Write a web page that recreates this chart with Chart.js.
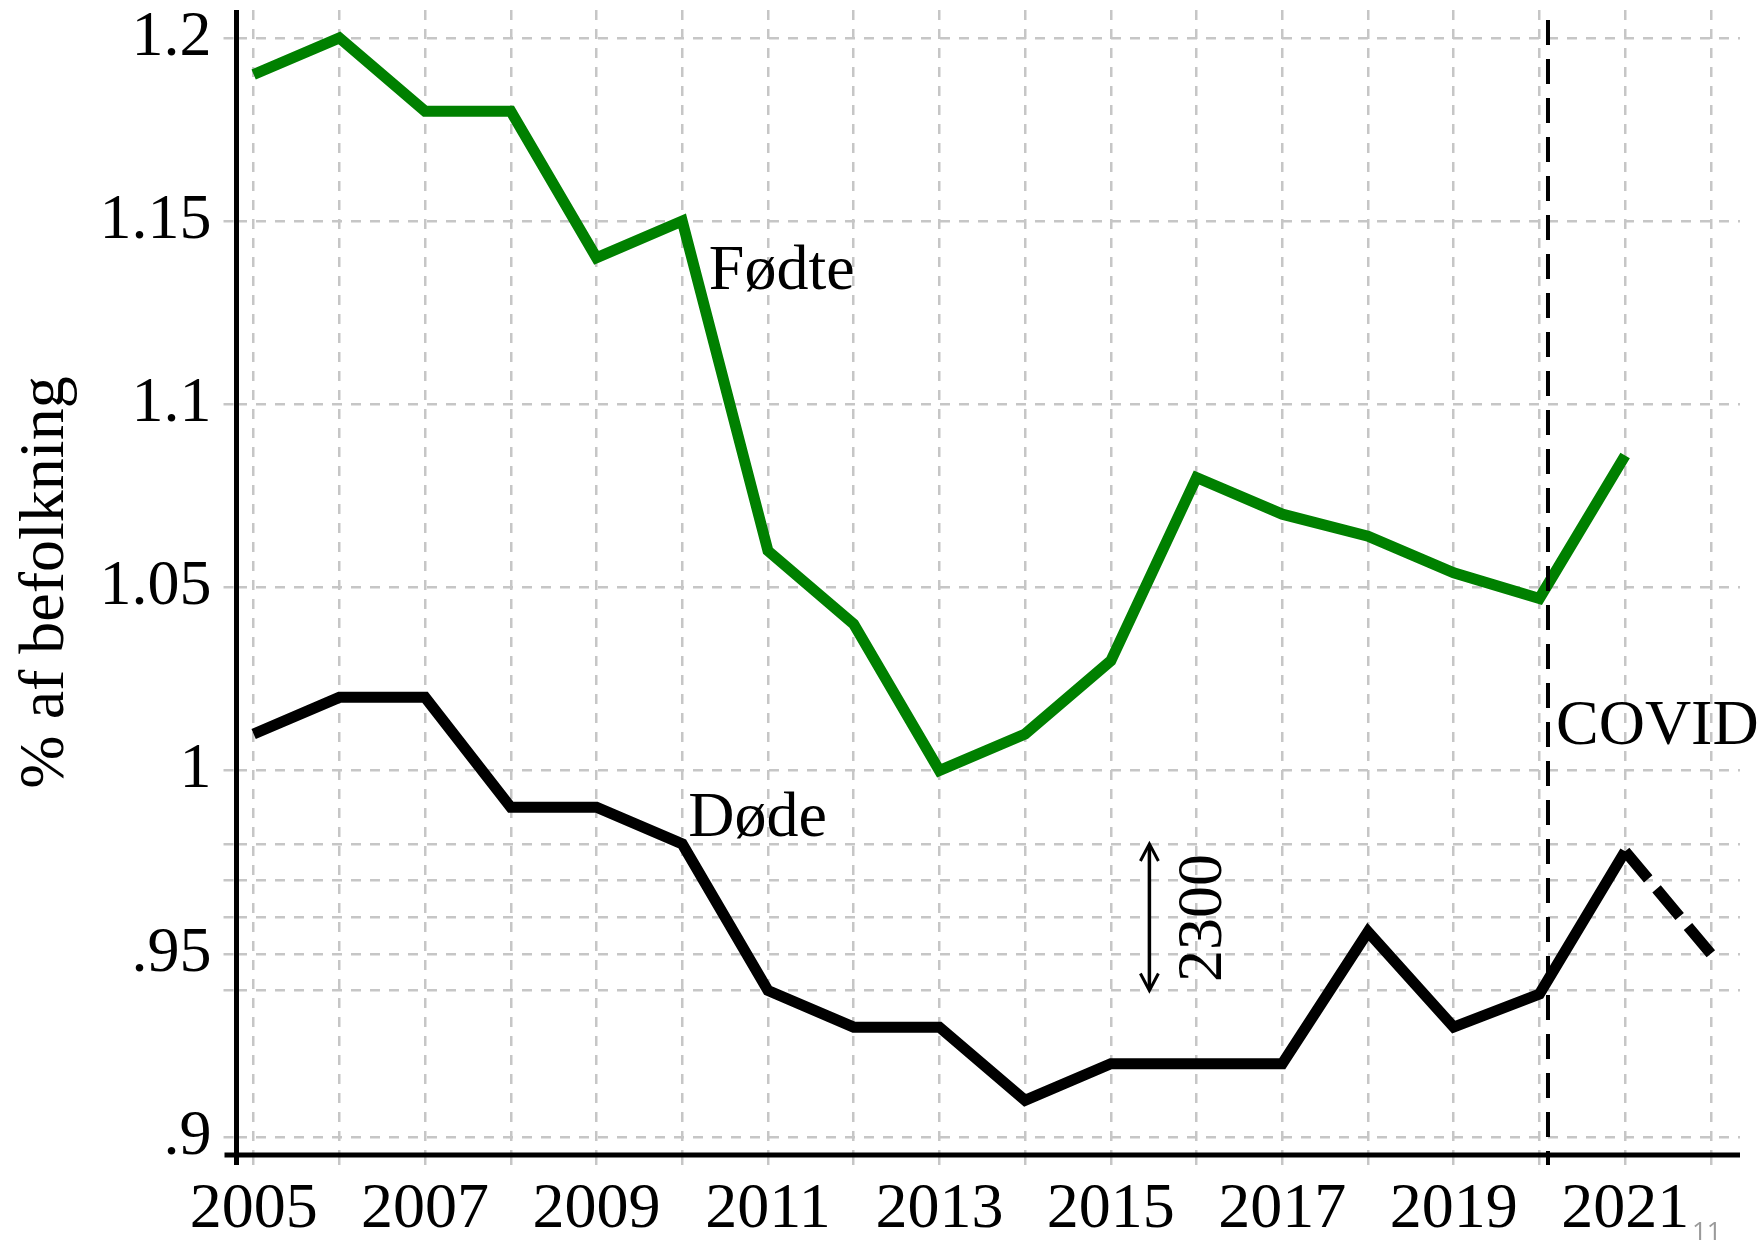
<!DOCTYPE html>
<html>
<head>
<meta charset="utf-8">
<script src="https://cdn.jsdelivr.net/npm/chart.js@4.4.1/dist/chart.umd.min.js"></script>
<style>
  html, body { margin: 0; padding: 0; background: #fff; }
  #wrap { width: 1763px; height: 1247px; position: relative; }
</style>
</head>
<body>
<div id="wrap"><canvas id="chart"></canvas></div>
<script>
// data
const years = [2005, 2006, 2007, 2008, 2009, 2010, 2011, 2012, 2013, 2014, 2015, 2016, 2017, 2018, 2019, 2020, 2021, 2022];
const fodte = [1.19, 1.20, 1.18, 1.18, 1.14, 1.15, 1.06, 1.04, 1.00, 1.01, 1.03, 1.08, 1.07, 1.064, 1.054, 1.047, 1.086, null];
const dode = [1.01, 1.02, 1.02, 0.99, 0.99, 0.98, 0.94, 0.93, 0.93, 0.91, 0.92, 0.92, 0.92, 0.956, 0.93, 0.939, 0.978, 0.95];

const yTicks = [0.9, 0.95, 1, 1.05, 1.1, 1.15, 1.2];
const yTickLabels = ['.9', '.95', '1', '1.05', '1.1', '1.15', '1.2'];
const yExtraGrid = [0.94, 0.96, 0.97, 0.98];
const xTickLabels = [2005, 2007, 2009, 2011, 2013, 2015, 2017, 2019, 2021];

const covidYear = 2020.1;
const gapLabel = '2300';

const serif = "'Liberation Serif', 'Times New Roman', serif";
const gridGray = '#c6c6c6';

const overlay = {
  id: 'overlay',
  afterDatasetsDraw(chart) {
    const { ctx, scales: { x, y }, chartArea } = chart;
    ctx.save();

    // COVID linje
    const cx = x.getPixelForValue(covidYear);
    ctx.strokeStyle = '#000';
    ctx.lineWidth = 4;
    ctx.setLineDash([25, 14]);
    ctx.beginPath();
    ctx.moveTo(cx, chartArea.top + 10);
    ctx.lineTo(cx, chartArea.bottom + 10);
    ctx.stroke();
    ctx.setLineDash([]);

    // pil for 2300
    const ax = x.getPixelForValue(2015.45);
    const ay1 = y.getPixelForValue(0.98);
    const ay2 = y.getPixelForValue(0.94);
    ctx.lineWidth = 3.5;
    ctx.beginPath();
    ctx.moveTo(ax, ay1 + 2);
    ctx.lineTo(ax, ay2 - 2);
    ctx.stroke();
    ctx.lineWidth = 3;
    ctx.beginPath();
    ctx.moveTo(ax - 9, ay1 + 17);
    ctx.lineTo(ax, ay1);
    ctx.lineTo(ax + 9, ay1 + 17);
    ctx.moveTo(ax - 9, ay2 - 17);
    ctx.lineTo(ax, ay2);
    ctx.lineTo(ax + 9, ay2 - 17);
    ctx.stroke();

    // tekster
    ctx.fillStyle = '#000';
    ctx.font = '64px ' + serif;
    ctx.textAlign = 'left';
    ctx.textBaseline = 'alphabetic';
    ctx.fillText('Fødte', x.getPixelForValue(2010.31), y.getPixelForValue(1.1315));
    ctx.fillText('Døde', x.getPixelForValue(2010.07), y.getPixelForValue(0.9821));
    ctx.fillText('COVID', cx + 8, y.getPixelForValue(1.0073));

    ctx.save();
    ctx.translate(x.getPixelForValue(2016.09), y.getPixelForValue(0.9598));
    ctx.rotate(-Math.PI / 2);
    ctx.textAlign = 'center';
    ctx.textBaseline = 'middle';
    ctx.fillText(gapLabel, 0, 0);
    ctx.restore();

    ctx.restore();
  },
  afterDraw(chart) {
    const { ctx, chartArea } = chart;
    ctx.save();
    ctx.strokeStyle = '#000';
    ctx.lineWidth = 5;
    ctx.beginPath();
    ctx.moveTo(chartArea.left, chartArea.top);
    ctx.lineTo(chartArea.left, chartArea.bottom + 10);
    ctx.moveTo(chartArea.left - 12, chartArea.bottom);
    ctx.lineTo(chartArea.right, chartArea.bottom);
    ctx.stroke();

    // sidenummer
    ctx.fillStyle = '#9a9a9a';
    ctx.font = "26px 'Open Sans', sans-serif";
    ctx.textAlign = 'left';
    ctx.textBaseline = 'alphabetic';
    ctx.fillText('11', 1692, 1240);
    ctx.restore();
  }
};

const ctx = document.getElementById('chart').getContext('2d');
new Chart(ctx, {
  type: 'line',
  data: {
    datasets: [{
      label: 'Fødte',
      data: years.map((yr, i) => ({ x: yr, y: fodte[i] })),
      borderColor: '#008000',
      borderWidth: 11,
      pointRadius: 0,
      tension: 0,
      borderJoinStyle: 'miter',
      borderCapStyle: 'butt'
    }, {
      label: 'Døde',
      data: years.map((yr, i) => ({ x: yr, y: dode[i] })),
      borderColor: '#000',
      borderWidth: 11,
      pointRadius: 0,
      tension: 0,
      borderJoinStyle: 'miter',
      segment: {
        borderDash: c => c.p1DataIndex === years.length - 1 ? [36, 13] : undefined
      }
    }]
  },
  options: {
    responsive: true,
    maintainAspectRatio: false,
    animation: false,
    layout: { padding: { top: 10, right: 23, left: 0, bottom: 0 } },
    plugins: { legend: { display: false }, tooltip: { enabled: false } },
    scales: {
      x: {
        type: 'linear',
        min: 2004.8,
        max: 2022.34,
        afterBuildTicks: s => { s.ticks = years.map(v => ({ value: v })); },
        afterFit: s => { s.height = 92; s.paddingLeft = 0; s.paddingRight = 0; },
        grid: { color: gridGray, lineWidth: 2.5, tickLength: 10, tickColor: gridGray, tickWidth: 2.5, tickBorderDash: [10, 9] },
        border: { display: false, dash: [10, 9] },
        ticks: {
          color: '#000',
          font: { family: serif, size: 64 },
          padding: 7,
          maxRotation: 0,
          autoSkip: false,
          callback: v => xTickLabels.includes(v) ? String(v) : ''
        }
      },
      y: {
        min: 0.8951,
        max: 1.2076,
        afterBuildTicks: s => {
          s.ticks = yTicks.concat(yExtraGrid).sort((a, b) => a - b).map(v => ({ value: v }));
        },
        afterFit: s => { s.width = 236.5; s.paddingTop = 0; s.paddingBottom = 0; },
        grid: { color: gridGray, lineWidth: 2.5, tickLength: 13, tickColor: gridGray, tickWidth: 2.5, tickBorderDash: [10, 9] },
        border: { display: false, dash: [10, 9] },
        title: {
          display: true,
          text: '% af befolkning',
          color: '#000',
          font: { family: serif, size: 64 },
          padding: { top: 8, bottom: 0 }
        },
        ticks: {
          color: '#000',
          font: { family: serif, size: 64 },
          padding: 12,
          autoSkip: false,
          callback: v => {
            const i = yTicks.findIndex(t => Math.abs(t - v) < 1e-6);
            return i >= 0 ? yTickLabels[i] : '';
          }
        }
      }
    }
  },
  plugins: [overlay]
});
</script>
</body>
</html>
